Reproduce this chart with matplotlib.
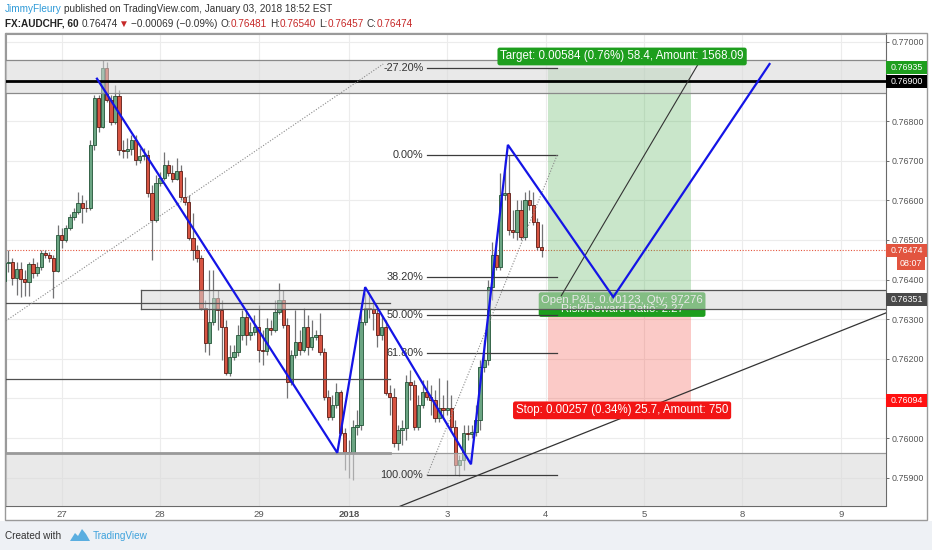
#!/usr/bin/env python3
"""AUDCHF 60 min chart: ABCD legs, fib retracement and a long position, TradingView look."""

import matplotlib

matplotlib.use("Agg")
import matplotlib.patches as mpatches
import matplotlib.pyplot as plt
import matplotlib.transforms as mtransforms
import numpy as np

W_PX, H_PX = 932, 550
FONT = ["Liberation Sans", "DejaVu Sans"]

# ---- hourly candles (open = previous close) --------------------------------
FIRST_OPEN = 0.76396
CLOSES = [
    0.76442, 0.76444, 0.76404, 0.76427, 0.76402, 0.76394, 0.76439, 0.76417, 0.76432, 0.76467,
    0.76462, 0.76455, 0.76422, 0.76513, 0.76500, 0.76530, 0.76558, 0.76571, 0.76593, 0.76581,
    0.76580, 0.76740, 0.76859, 0.76785, 0.76934, 0.76854, 0.76798, 0.76864, 0.76727, 0.76725,
    0.76730, 0.76753, 0.76702, 0.76712, 0.76715, 0.76619, 0.76550, 0.76644, 0.76657, 0.76689,
    0.76669, 0.76654, 0.76674, 0.76609, 0.76596, 0.76505, 0.76475, 0.76455, 0.76328, 0.76240,
    0.76293, 0.76354, 0.76323, 0.76280, 0.76164, 0.76205, 0.76217, 0.76260, 0.76306, 0.76260,
    0.76268, 0.76280, 0.76222, 0.76220, 0.76278, 0.76273, 0.76318, 0.76348, 0.76285, 0.76141,
    0.76210, 0.76242, 0.76222, 0.76280, 0.76230, 0.76255, 0.76260, 0.76217, 0.76104, 0.76053,
    0.76083, 0.76116, 0.76013, 0.75965, 0.75963, 0.76028, 0.76033, 0.76293, 0.76328, 0.76326,
    0.76316, 0.76260, 0.76280, 0.76114, 0.76104, 0.75987, 0.76020, 0.76025, 0.76141, 0.76134,
    0.76028, 0.76083, 0.76116, 0.76104, 0.76096, 0.76051, 0.76076, 0.76071, 0.76076, 0.76028,
    0.75932, 0.75944, 0.76013, 0.76011, 0.76015, 0.76045, 0.76179, 0.76197, 0.76381, 0.76462,
    0.76432, 0.76614, 0.76619, 0.76525, 0.76520, 0.76576, 0.76508, 0.76601, 0.76588, 0.76545,
    0.76482, 0.76474,
]
HIGHS = [
    0.76482, 0.76475, 0.76455, 0.76444, 0.76444, 0.76424, 0.76444, 0.76455, 0.76444, 0.76475,
    0.76475, 0.76470, 0.76462, 0.76538, 0.76530, 0.76538, 0.76566, 0.76581, 0.76621, 0.76614,
    0.76601, 0.76753, 0.76866, 0.76866, 0.76955, 0.76950, 0.76866, 0.76891, 0.76879, 0.76753,
    0.76758, 0.76765, 0.76765, 0.76732, 0.76732, 0.76727, 0.76639, 0.76664, 0.76672, 0.76722,
    0.76702, 0.76689, 0.76707, 0.76689, 0.76659, 0.76614, 0.76568, 0.76487, 0.76462, 0.76348,
    0.76424, 0.76424, 0.76374, 0.76348, 0.76298, 0.76235, 0.76235, 0.76285, 0.76323, 0.76323,
    0.76293, 0.76311, 0.76336, 0.76273, 0.76303, 0.76298, 0.76348, 0.76391, 0.76374, 0.76303,
    0.76222, 0.76323, 0.76273, 0.76328, 0.76311, 0.76298, 0.76273, 0.76316, 0.76227, 0.76121,
    0.76109, 0.76139, 0.76121, 0.76025, 0.75995, 0.76045, 0.76071, 0.76323, 0.76366, 0.76361,
    0.76348, 0.76336, 0.76311, 0.76298, 0.76134, 0.76126, 0.76033, 0.76045, 0.76159, 0.76172,
    0.76146, 0.76109, 0.76146, 0.76146, 0.76134, 0.76121, 0.76152, 0.76109, 0.76146, 0.76109,
    0.76045, 0.75957, 0.76033, 0.76033, 0.76033, 0.76083, 0.76197, 0.76247, 0.76399, 0.76495,
    0.76500, 0.76669, 0.76702, 0.76714, 0.76576, 0.76601, 0.76601, 0.76621, 0.76626, 0.76621,
    0.76556, 0.76540,
]
LOWS = [
    0.76389, 0.76419, 0.76386, 0.76361, 0.76356, 0.76359, 0.76359, 0.76404, 0.76409, 0.76424,
    0.76455, 0.76444, 0.76354, 0.76419, 0.76480, 0.76495, 0.76525, 0.76550, 0.76566, 0.76543,
    0.76571, 0.76576, 0.76727, 0.76773, 0.76783, 0.76848, 0.76790, 0.76793, 0.76715, 0.76707,
    0.76707, 0.76715, 0.76689, 0.76694, 0.76702, 0.76609, 0.76449, 0.76545, 0.76636, 0.76652,
    0.76662, 0.76646, 0.76652, 0.76601, 0.76588, 0.76500, 0.76449, 0.76444, 0.76323, 0.76217,
    0.76210, 0.76285, 0.76273, 0.76197, 0.76159, 0.76157, 0.76197, 0.76207, 0.76247, 0.76235,
    0.76247, 0.76260, 0.76192, 0.76184, 0.76210, 0.76260, 0.76268, 0.76313, 0.76278, 0.76101,
    0.76134, 0.76202, 0.76210, 0.76217, 0.76210, 0.76222, 0.76247, 0.76210, 0.76096, 0.76045,
    0.76045, 0.76076, 0.76008, 0.75919, 0.75899, 0.75894, 0.76008, 0.76020, 0.76285, 0.76303,
    0.76273, 0.76230, 0.76247, 0.76109, 0.76058, 0.75977, 0.75970, 0.75982, 0.75995, 0.76096,
    0.76020, 0.76020, 0.76076, 0.76096, 0.76058, 0.76040, 0.76040, 0.76051, 0.76058, 0.76015,
    0.75907, 0.75904, 0.75919, 0.75995, 0.76000, 0.76005, 0.76020, 0.76167, 0.76184, 0.76348,
    0.76424, 0.76424, 0.76601, 0.76513, 0.76505, 0.76500, 0.76500, 0.76500, 0.76576, 0.76538,
    0.76475, 0.76457,
]

# ---- axes ---------------------------------------------------------------------
DAY_TICKS = [14, 38, 62, 84, 108, 132, 156, 180, 204]
DAY_LABELS = ["27", "28", "29", "2018", "3", "4", "5", "8", "9"]
PRICE_TICKS = [0.759, 0.760, 0.761, 0.762, 0.763, 0.764, 0.765, 0.766, 0.767, 0.768, 0.769, 0.770]
X_RANGE = (0.3, 215.0)
Y_RANGE = (0.75830, 0.77021)

# ---- drawings (bar index, price) ---------------------------------------------------
ABCD_T = [22.6, 81.2, 88.0, 113.8, 122.8, 148.5, 186.6]
ABCD_P = [0.76907, 0.75963, 0.76381, 0.75934, 0.76740, 0.76356, 0.76944]

FIB_T = (103.1, 134.8)
FIB_HIGH, FIB_LOW = 0.76714, 0.75906
FIB_LEVELS = [-0.272, 0.0, 0.382, 0.5, 0.618, 1.0]
FIB_LABELS = ["-27.20%", "0.00%", "38.20%", "50.00%", "61.80%", "100.00%"]

TOP_ZONE = (0.76871, 0.76955)
MID_ZONE = (0.76326, 0.76374)
MID_ZONE_START = 33.3
LOW_ZONE_TOP = 0.75962
KEY_LEVEL = 0.76900
RAY_LEVELS = [0.76341, 0.76150]
RAY_END = 94.1

TREND_T = [96.0, 215.0]
TREND_P = [0.75826, 0.76316]
DIAG_T = [0.4, 92.4]
DIAG_P = [0.76296, 0.76944]

POS_T = (132.6, 167.5)
ENTRY, TARGET, STOP = 0.76351, 0.76935, 0.76094
ARROW_T = (135.8, 170.4)
ARROW_P = (0.76359, 0.76965)
LAST_PRICE = 0.76474

TARGET_TEXT = "Target: 0.00584 (0.76%) 58.4, Amount: 1568.09"
STOP_TEXT = "Stop: 0.00257 (0.34%) 25.7, Amount: 750"
PNL_TEXT = "Open P&L: 0.00123, Qty: 97276\nRisk/Reward Ratio: 2.27"

BADGES = [
    (0.76935, "0.76935", "#1e9e1e"),
    (0.76900, "0.76900", "#000000"),
    (0.76474, "0.76474", "#e2543f"),
    (0.76351, "0.76351", "#4a4a4a"),
    (0.76094, "0.76094", "#ff1111"),
]

UP_FACE, UP_EDGE = "#6ba583", "#225437"
DN_FACE, DN_EDGE = "#d75442", "#5b1a13"
WICK = "#737375"
BLUE = "#1414e6"
GREEN_LABEL = "#1e9e1e"
RED_LABEL = "#f21515"

AX_LEFT, AX_RIGHT, AX_TOP, AX_BOTTOM = 5.5, 886.0, 33.5, 505.5


def write_run(fig, x, y, parts, size):
    renderer = fig.canvas.get_renderer()
    for txt, color, weight, gap in parts:
        t = fig.text(x / W_PX, 1 - y / H_PX, txt, fontsize=size, color=color,
                     fontweight=weight, family=FONT, ha="left", va="center")
        x = t.get_window_extent(renderer).x1 + gap


def main():
    fig = plt.figure(figsize=(W_PX / 100, H_PX / 100), dpi=100, facecolor="#eef1f5")
    # white page + widget frame
    fig.add_artist(mpatches.Rectangle((0, 1 - 521 / H_PX), 1, 521 / H_PX, transform=fig.transFigure,
                                      facecolor="white", edgecolor="none", zorder=-10))
    fig.add_artist(mpatches.Rectangle((5 / W_PX, 1 - 520 / H_PX), 922 / W_PX, 487 / H_PX,
                                      transform=fig.transFigure, facecolor="white",
                                      edgecolor="#9a9a9a", lw=1.0, zorder=-9))

    ax = fig.add_axes([AX_LEFT / W_PX, 1 - AX_BOTTOM / H_PX, (AX_RIGHT - AX_LEFT) / W_PX,
                       (AX_BOTTOM - AX_TOP) / H_PX])
    ax.set_facecolor("white")
    ax.set_xlim(*X_RANGE)
    ax.set_ylim(*Y_RANGE)
    px_per_price = (AX_BOTTOM - AX_TOP) / (Y_RANGE[1] - Y_RANGE[0])

    # grid
    for p in PRICE_TICKS:
        ax.axhline(p, color="#ececec", lw=0.8, zorder=0)
    for d in DAY_TICKS:
        ax.axvline(d, color="#ececec", lw=0.8, zorder=0)

    # axes styling
    for side in ("top", "left"):
        ax.spines[side].set_color("#9a9a9a")
    for side in ("right", "bottom"):
        ax.spines[side].set_color("#6a6a6a")
    ax.yaxis.tick_right()
    ax.set_yticks(PRICE_TICKS)
    ax.set_yticklabels([f"{p:.5f}" for p in PRICE_TICKS])
    ax.tick_params(axis="y", length=2.5, width=0.7, color="#6a6a6a", pad=1.5,
                   labelsize=6.4, labelcolor="#555555")
    ax.set_xticks(DAY_TICKS)
    ax.set_xticklabels(DAY_LABELS)
    ax.tick_params(axis="x", length=0, pad=3.5, labelsize=6.8, labelcolor="#555555")
    for lab in ax.get_xticklabels() + ax.get_yticklabels():
        lab.set_family(FONT)
    ax.get_xticklabels()[DAY_LABELS.index("2018")].set_fontweight("bold")

    # last price dotted line
    ax.axhline(LAST_PRICE, color="#e4553d", lw=0.8, ls=(0, (1, 1.5)), zorder=1)

    # candles
    closes = np.array(CLOSES)
    opens = np.array([FIRST_OPEN] + CLOSES[:-1])
    highs = np.maximum(np.array(HIGHS), np.maximum(opens, closes))
    lows = np.minimum(np.array(LOWS), np.minimum(opens, closes))
    t = np.arange(len(closes))
    up = closes >= opens
    ax.vlines(t, lows, highs, color=WICK, lw=0.9, zorder=2)
    bottoms = np.minimum(opens, closes)
    heights = np.maximum(np.abs(closes - opens), 0.000012)
    ax.bar(t[up], heights[up], bottom=bottoms[up], width=0.8, color=UP_FACE,
           edgecolor=UP_EDGE, lw=0.6, zorder=3)
    ax.bar(t[~up], heights[~up], bottom=bottoms[~up], width=0.8, color=DN_FACE,
           edgecolor=DN_EDGE, lw=0.6, zorder=3)

    # long position tool
    ax.fill_between(POS_T, ENTRY, TARGET, color="#4caf50", alpha=0.3, lw=0, zorder=2.5)
    ax.fill_between(POS_T, STOP, ENTRY, color="#f44336", alpha=0.28, lw=0, zorder=2.5)
    mid_x = (POS_T[0] + POS_T[1]) / 2 + 0.6
    ax.annotate(PNL_TEXT, xy=(mid_x, ENTRY), xytext=(0, -4), textcoords="offset points",
                ha="center", va="center", fontsize=8.2, color="white", family=FONT,
                linespacing=0.95, zorder=3.5,
                bbox=dict(boxstyle="round,pad=0.22,rounding_size=0.2", fc=GREEN_LABEL, ec="none"))

    # zones (drawn over candles, semi transparent)
    ax.axhspan(*TOP_ZONE, facecolor="#d8d8d8", alpha=0.55, edgecolor="none", zorder=4)
    ax.axhline(TOP_ZONE[0], color="#8a8a8a", lw=0.9, zorder=4)
    ax.axhline(TOP_ZONE[1], color="#8a8a8a", lw=0.9, zorder=4)
    ax.axhline(KEY_LEVEL, color="black", lw=2.0, zorder=5)
    ax.add_patch(mpatches.Rectangle((MID_ZONE_START, MID_ZONE[0]), X_RANGE[1] - MID_ZONE_START,
                                    MID_ZONE[1] - MID_ZONE[0], facecolor="#d8d8d8", alpha=0.55,
                                    edgecolor="none", zorder=4))
    ax.plot([MID_ZONE_START, X_RANGE[1]], [MID_ZONE[0]] * 2, color="#555555", lw=0.9, zorder=4)
    ax.plot([MID_ZONE_START, X_RANGE[1]], [MID_ZONE[1]] * 2, color="#555555", lw=0.9, zorder=4)
    ax.plot([MID_ZONE_START, MID_ZONE_START], MID_ZONE, color="#555555", lw=0.9, zorder=4)
    ax.axhspan(Y_RANGE[0] - 0.001, LOW_ZONE_TOP, facecolor="#d8d8d8", alpha=0.55,
               edgecolor="none", zorder=4)
    ax.axhline(LOW_ZONE_TOP, color="#9a9a9a", lw=0.9, zorder=4)
    ax.plot([X_RANGE[0], RAY_END], [LOW_ZONE_TOP] * 2, color="#9a9a9a", lw=2.0, zorder=4.5)
    for p in RAY_LEVELS:
        ax.plot([X_RANGE[0], RAY_END], [p, p], color="#505050", lw=0.9, zorder=4.5)

    # trend lines
    ax.plot(TREND_T, TREND_P, color="#333333", lw=0.9, zorder=5)
    ax.plot(DIAG_T, DIAG_P, color="#8a8a8a", lw=0.8, ls=(0, (1, 1.5)), zorder=5)

    # fib retracement
    for lvl, lab in zip(FIB_LEVELS, FIB_LABELS):
        p = FIB_HIGH - lvl * (FIB_HIGH - FIB_LOW)
        ax.plot(FIB_T, [p, p], color="#3c3c3c", lw=0.9, zorder=5)
        ax.text(FIB_T[0] - 0.9, p, lab, ha="right", va="center", fontsize=7.8,
                color="#333333", family=FONT, zorder=6)
    ax.plot(FIB_T, [FIB_LOW, FIB_HIGH], color="#8a8a8a", lw=0.8, ls=(0, (1, 1.5)), zorder=5)

    # arrow of the position
    ax.annotate("", xy=(ARROW_T[1], ARROW_P[1]), xytext=(ARROW_T[0], ARROW_P[0]),
                arrowprops=dict(arrowstyle="-|>", color="#333333", lw=0.8,
                                mutation_scale=6, shrinkA=0, shrinkB=0), zorder=5)

    # ABCD legs
    ax.plot(ABCD_T, ABCD_P, color=BLUE, lw=1.6, zorder=6, solid_joinstyle="miter")

    # position labels
    ax.annotate(TARGET_TEXT, xy=(mid_x, TARGET), xytext=(0, 8), textcoords="offset points",
                ha="center", va="center", fontsize=8.3, color="white", family=FONT, zorder=7,
                bbox=dict(boxstyle="round,pad=0.25,rounding_size=0.2", fc=GREEN_LABEL, ec="none"))
    ax.annotate(STOP_TEXT, xy=(mid_x, STOP), xytext=(0, -6.8), textcoords="offset points",
                ha="center", va="center", fontsize=8.3, color="white", family=FONT, zorder=7,
                bbox=dict(boxstyle="round,pad=0.25,rounding_size=0.2", fc=RED_LABEL, ec="none"))

    # price badges on the right scale
    blend = mtransforms.blended_transform_factory(fig.transFigure, ax.transData)
    half = 6.5 / px_per_price
    for price, txt, color in BADGES:
        ax.add_patch(mpatches.Rectangle((886 / W_PX, price - half), 41 / W_PX, 2 * half,
                                        transform=blend, facecolor=color, edgecolor="none",
                                        clip_on=False, zorder=10))
        ax.text(906.5 / W_PX, price, txt, transform=blend, ha="center", va="center",
                fontsize=6.4, color="white", family=FONT, clip_on=False, zorder=11)
    cd = LAST_PRICE - 13.5 / px_per_price
    ax.add_patch(mpatches.Rectangle((897 / W_PX, cd - half), 28 / W_PX, 2 * half, transform=blend,
                                    facecolor="#e2543f", edgecolor="none", clip_on=False, zorder=10))
    ax.text(911 / W_PX, cd, "08:07", transform=blend, ha="center", va="center", fontsize=6.4,
            color="white", family=FONT, clip_on=False, zorder=11)

    # header
    write_run(fig, 5, 9, [
        ("JimmyFleury", "#2e9ad8", "normal", 2.5),
        ("published on TradingView.com, January 03, 2018 18:52 EST", "#333333", "normal", 0),
    ], 7.2)
    red = "#c62828"
    write_run(fig, 5, 24, [
        ("FX:AUDCHF, 60", "#222222", "bold", 3),
        ("0.76474", "#333333", "normal", 1.5),
        ("▼", "#c62828", "normal", 1.5),
        ("\u22120.00069 (\u22120.09%)", "#333333", "normal", 3),
        ("O:", "#333333", "normal", 0),
        ("0.76481", red, "normal", 3),
        ("H:", "#333333", "normal", 0),
        ("0.76540", red, "normal", 3),
        ("L:", "#333333", "normal", 0),
        ("0.76457", red, "normal", 3),
        ("C:", "#333333", "normal", 0),
        ("0.76474", red, "normal", 0),
    ], 7.2)

    # footer
    fig.text(5 / W_PX, 1 - 536 / H_PX, "Created with", fontsize=7.2, color="#333333",
             family=FONT, ha="left", va="center")
    logo = [(70, 541), (75, 533), (78, 536), (82, 529), (86, 534), (90, 541)]
    fig.add_artist(mpatches.Polygon([(x / W_PX, 1 - y / H_PX) for x, y in logo], closed=True,
                                    transform=fig.transFigure, facecolor="#5aaee0", edgecolor="none"))
    fig.text(93 / W_PX, 1 - 536 / H_PX, "TradingView", fontsize=7.2, color="#3ea2dc",
             family=FONT, ha="left", va="center")

    fig.savefig("out.png", dpi=100, facecolor=fig.get_facecolor())
    plt.close(fig)


if __name__ == "__main__":
    main()
